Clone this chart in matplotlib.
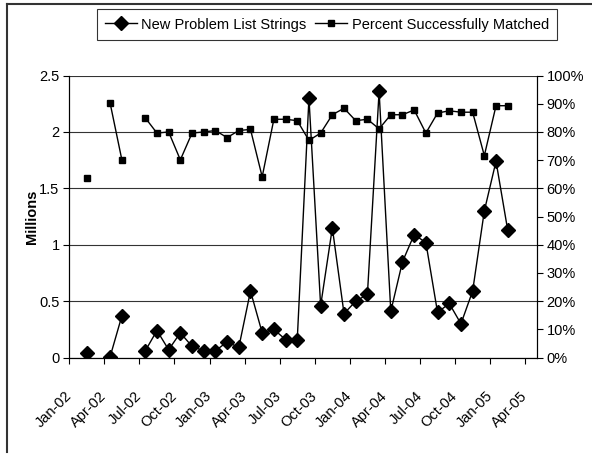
import numpy as np
import pandas as pd
import matplotlib
matplotlib.use("Agg")
import matplotlib.pyplot as plt
from matplotlib.lines import Line2D

plt.rcParams['font.family'] = ['Liberation Sans', 'DejaVu Sans']

# monthly data, Feb-02 .. Feb-05 (nan = no data that month)
months = pd.date_range('2002-02-01', '2005-02-01', freq='MS')

new_strings = [  # millions
    0.04, np.nan, 0.01, 0.37, np.nan, 0.06, 0.24, 0.07, 0.22, 0.10, 0.06,
    0.06, 0.14, 0.09, 0.59, 0.22, 0.25, 0.16, 0.16, 2.30, 0.46, 1.15, 0.39,
    0.50, 0.56, 2.36, 0.41, 0.85, 1.09, 1.02, 0.40, 0.48, 0.30, 0.59, 1.30,
    1.74, 1.13,
]
pct_matched = [  # percent
    63.6, np.nan, 90.1, 70.1, np.nan, 85.0, 79.6, 80.0, 70.1, 79.6, 80.0,
    80.5, 78.0, 80.5, 80.9, 64.1, 84.5, 84.5, 84.0, 77.0, 79.6, 86.1, 88.4,
    84.0, 84.5, 81.1, 86.1, 86.1, 87.8, 79.6, 86.7, 87.5, 87.0, 87.0, 71.6,
    89.3, 89.3,
]

tick_dates = pd.date_range('2002-01-01', '2005-04-01', freq='3MS')
tick_labels = [d.strftime('%b-%y') for d in tick_dates]


def month_pos(d):
    # months since Jan-02
    return (d.year - 2002) * 12 + (d.month - 1)


x = np.array([month_pos(d) for d in months]) + 0.5
ticks = [month_pos(d) for d in tick_dates]

fig = plt.figure(figsize=(5.92, 4.55), dpi=100)
ax = fig.add_axes([0.117, 0.214, 0.790, 0.620])
ax2 = ax.twinx()

ax.plot(x, new_strings, color='black', lw=1, marker='D', ms=7, zorder=3)
ax2.plot(x, pct_matched, color='black', lw=1, marker='s', ms=4.2, zorder=3)

ax.set_xlim(0, 40)
ax.set_ylim(0, 2.5)
ax.set_yticks([0, 0.5, 1, 1.5, 2, 2.5])
ax.set_yticklabels(['0', '0.5', '1', '1.5', '2', '2.5'])
ax.yaxis.grid(True, color='#333333', lw=0.8)
ax.set_axisbelow(True)
ax.set_ylabel('Millions', fontsize=10.5, fontweight='bold', labelpad=0)

ax2.set_ylim(0, 100)
ax2.set_yticks(range(0, 101, 10))
ax2.set_yticklabels([f'{v}%' for v in range(0, 101, 10)])

ax.set_xticks(ticks)
ax.set_xticklabels(tick_labels, rotation=45, ha='right', va='center',
                   rotation_mode='anchor', fontsize=10.5)
ax.tick_params(axis='x', direction='out', length=4, width=0.8, pad=22)
ax.tick_params(axis='y', direction='out', length=4, width=0.8, labelsize=10.5, pad=3)
ax2.tick_params(axis='y', direction='out', length=4, width=0.8, labelsize=10.5, pad=3)

for a in (ax, ax2):
    a.spines['top'].set_visible(False)
    for s in ('left', 'right', 'bottom'):
        a.spines[s].set_linewidth(0.8)

handles = [
    Line2D([], [], color='black', lw=1, marker='D', ms=7),
    Line2D([], [], color='black', lw=1, marker='s', ms=4.2),
]
leg = fig.legend(handles, ['New Problem List Strings', 'Percent Successfully Matched'],
                 loc='center', bbox_to_anchor=(327 / 592, 1 - 24.5 / 455), ncol=2,
                 fontsize=10.5, frameon=True, fancybox=False, shadow=False,
                 handlelength=2.2, handletextpad=0.3, columnspacing=0.6,
                 borderpad=0.55, borderaxespad=0)
leg.get_frame().set_edgecolor('black')
leg.get_frame().set_linewidth(0.8)

# chart-area border (left and top edges visible)
fig.add_artist(Line2D([7 / 592, 7 / 592], [1 - 452 / 455, 1 - 3.5 / 455],
                      color='#333333', lw=1.5, transform=fig.transFigure))
fig.add_artist(Line2D([7 / 592, 1], [1 - 3.5 / 455, 1 - 3.5 / 455],
                      color='#333333', lw=1.5, transform=fig.transFigure))

fig.savefig('out.png', dpi=100)
